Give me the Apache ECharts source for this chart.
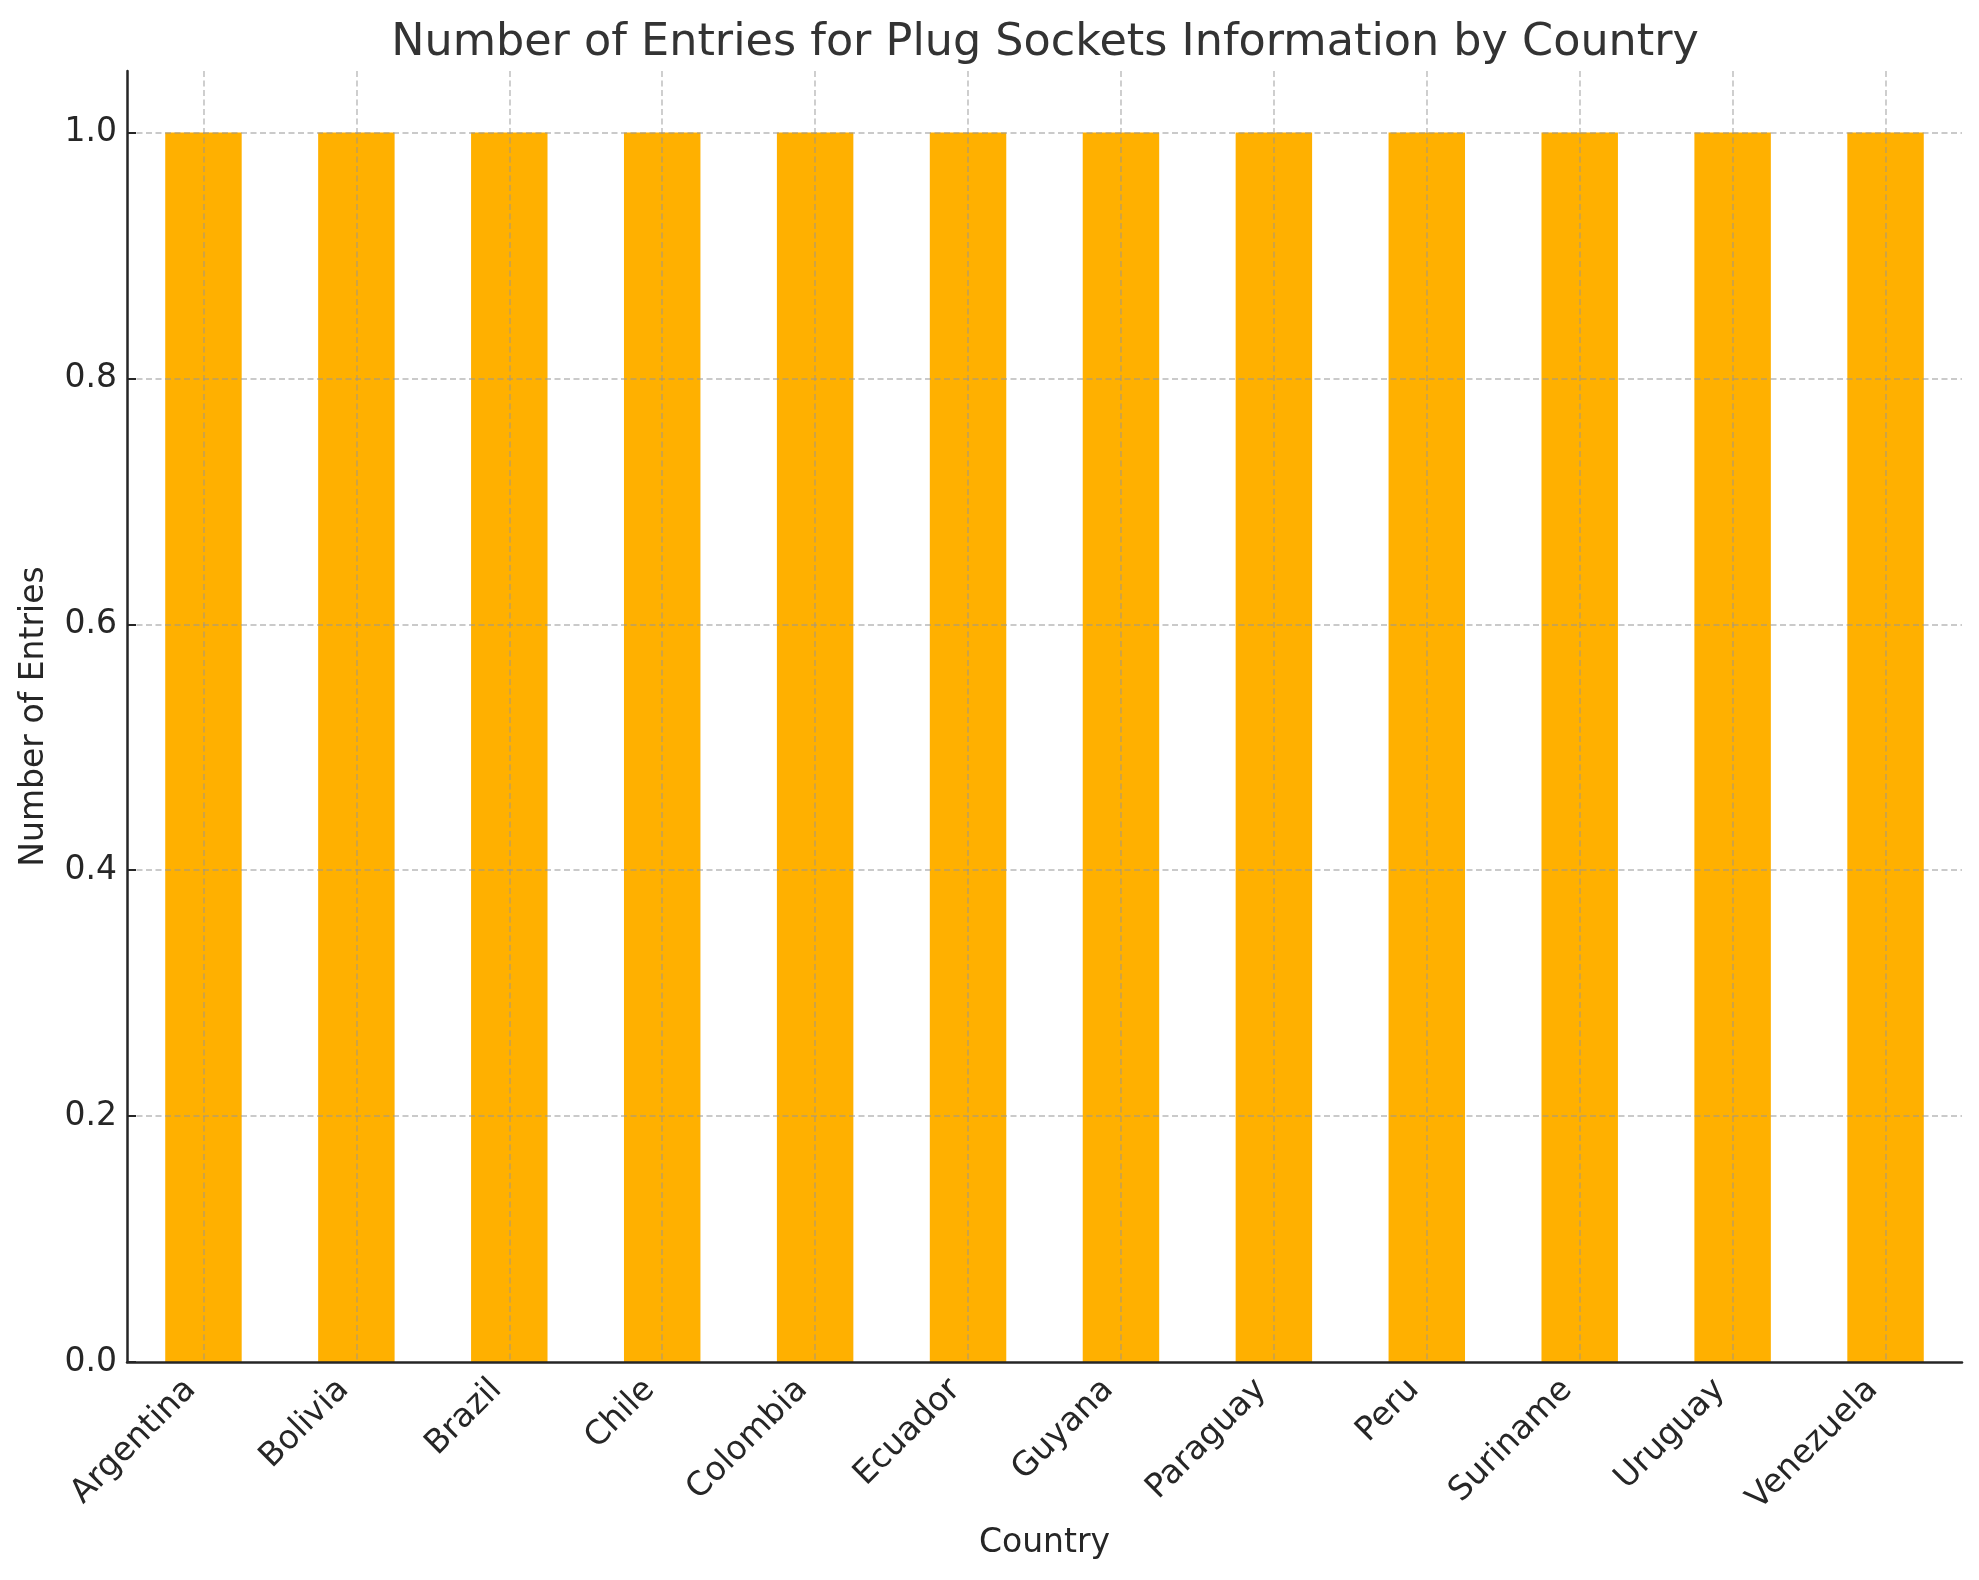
<!DOCTYPE html>
<html>
<head>
<meta charset="utf-8">
<title>Plug sockets entries</title>
<script src="https://cdn.jsdelivr.net/npm/echarts@6/dist/echarts.min.js"></script>
<style>
  html, body { margin: 0; padding: 0; background: #fff; }
  #main { width: 1979px; height: 1580px; }
</style>
</head>
<body>
<div id="main"></div>
<script>
// data
var countries = ['Argentina', 'Bolivia', 'Brazil', 'Chile', 'Colombia', 'Ecuador',
                 'Guyana', 'Paraguay', 'Peru', 'Suriname', 'Uruguay', 'Venezuela'];
var entries = [1, 1, 1, 1, 1, 1, 1, 1, 1, 1, 1, 1];
var yTicks = [0, 0.2, 0.4, 0.6, 0.8, 1.0];

var font = 'DejaVu Sans';
var dark = '#262626';
// dashed grid drawn over the bars, like the original
var grid = {type: [6, 3.5], color: 'rgba(150,150,150,0.5)', width: 1.8};

var myChart = echarts.init(document.getElementById('main'));

var option = {
    backgroundColor: '#ffffff',
    animation: false,
    title: {
        text: 'Number of Entries for Plug Sockets Information by Country',
        left: 1040,
        textAlign: 'center',
        top: 16,
        textStyle: {fontFamily: font, fontSize: 44.5, fontWeight: 'normal', color: '#333333'}
    },
    grid: {left: 127, right: 17, top: 71, bottom: 218},
    xAxis: {
        type: 'category',
        data: countries,
        z: 3,
        name: 'Country',
        nameLocation: 'middle',
        nameGap: 165,
        nameTextStyle: {fontFamily: font, fontSize: 33, color: dark},
        axisLine: {lineStyle: {color: dark, width: 2.5}},
        axisTick: {inside: true, length: 9, alignWithLabel: true, lineStyle: {color: dark, width: 2}},
        axisLabel: {
            rotate: 45, margin: 10, interval: 0, padding: [0, 18, 0, 0],
            fontFamily: font, fontSize: 33, color: dark
        },
        splitLine: {show: true, alignWithLabel: true, lineStyle: grid}
    },
    yAxis: {
        type: 'value',
        min: yTicks[0],
        max: 1.05,
        interval: 0.2,
        z: 3,
        name: 'Number of Entries',
        nameLocation: 'middle',
        nameGap: 76,
        nameTextStyle: {fontFamily: font, fontSize: 33, color: dark},
        axisLine: {show: true, lineStyle: {color: dark, width: 2.5}},
        axisTick: {show: true, inside: true, length: 9, lineStyle: {color: dark, width: 2}},
        axisLabel: {
            margin: 10, fontFamily: font, fontSize: 33, color: dark, showMaxLabel: false,
            formatter: function (v) { return v.toFixed(1); }
        },
        splitLine: {show: true, showMaxLine: false, showMinLine: false, lineStyle: grid}
    },
    series: [
        {
            type: 'bar',
            data: entries,
            barWidth: '50%',
            itemStyle: {color: '#FFB000'},
            z: 1
        }
    ]
};
myChart.setOption(option);
</script>
</body>
</html>
